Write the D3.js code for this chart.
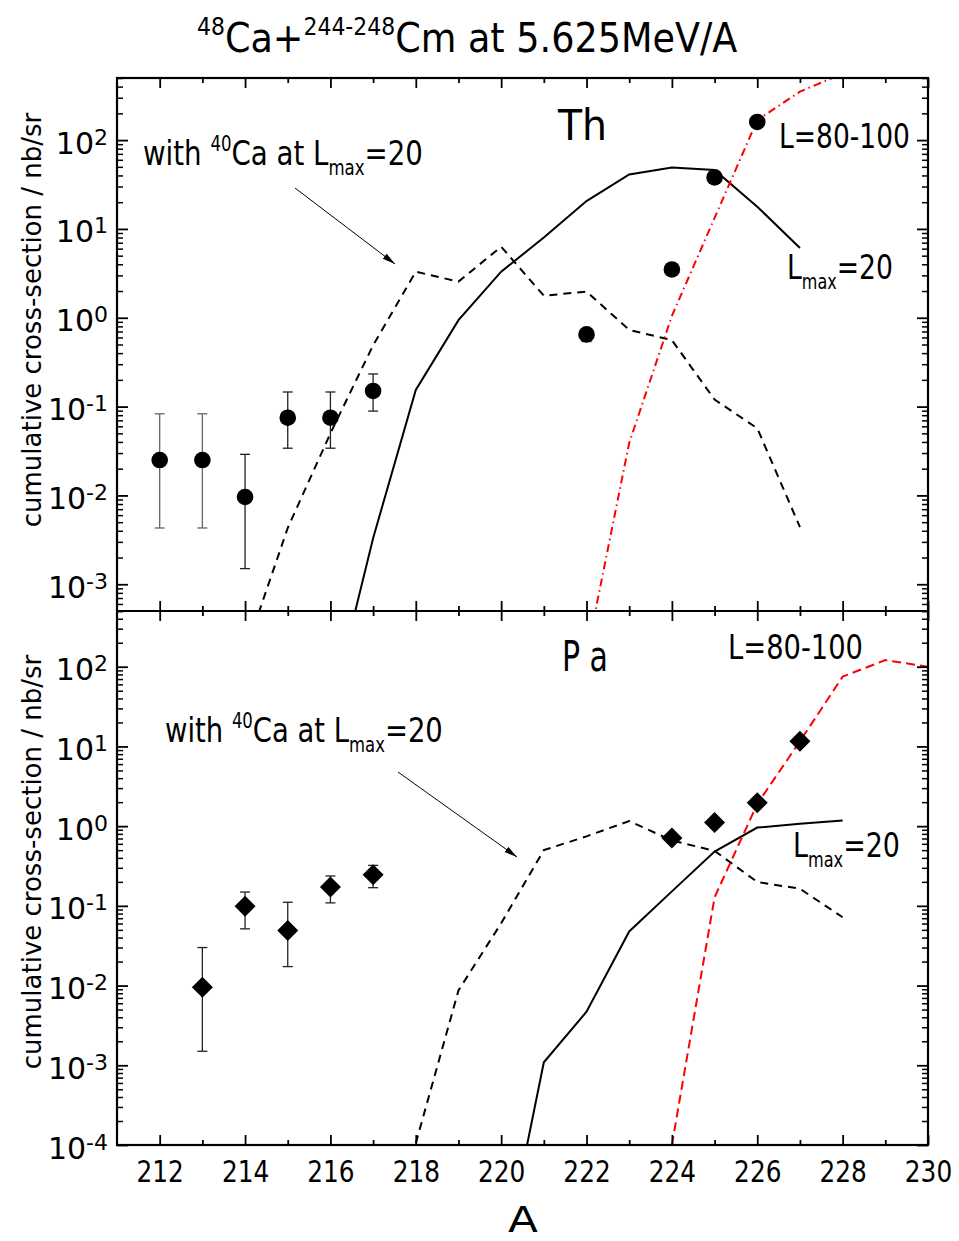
<!doctype html>
<html>
<head>
<meta charset="utf-8"/>
<style>
  html, body { margin: 0; padding: 0; background: #fff; }
  svg { display: block; }
  text { font-family: "DejaVu Sans", sans-serif; fill: #000; }
</style>
<script src="https://cdnjs.cloudflare.com/ajax/libs/d3/7.8.5/d3.min.js"></script>
</head>
<body>
<svg id="chart" width="959" height="1241"></svg>
<script>
// x axis: mass number A
var xTickValues = [212, 213, 214, 215, 216, 217, 218, 219, 220, 221, 222, 223, 224, 225, 226, 227, 228, 229, 230];
var xLabelValues = [212, 214, 216, 218, 220, 222, 224, 226, 228, 230];

// --- Th panel ---
var thA   = [212, 213, 214, 215, 216, 217, 222, 224, 225, 226];
var thSig = [0.025, 0.025, 0.0096, 0.075, 0.075, 0.15, 0.65, 3.5, 38, 160];
var thLo  = [0.0043, 0.0043, 0.0015, 0.034, 0.034, 0.089, 0.54, null, null, null];
var thHi  = [0.083, 0.083, 0.029, 0.146, 0.146, 0.233, 0.7, null, null, null];

var thLmaxA = [216, 217, 218, 219, 220, 221, 222, 223, 224, 225, 226, 227];
var thLmax  = [3.6e-5, 0.0033, 0.154, 0.94, 3.3, 8.0, 20.6, 41, 49, 46, 17.8, 6.1];

var thCa40A = [214, 215, 216, 217, 218, 219, 220, 221, 222, 223, 224, 225, 226, 227];
var thCa40  = [1.7e-4, 0.0043, 0.05, 0.49, 3.3, 2.55, 6.3, 1.77, 1.97, 0.73, 0.56, 0.12, 0.057, 0.0044];

var thL80A = [222, 223, 224, 225, 226, 227, 228];
var thL80  = [1.6e-4, 0.039, 1.05, 13.3, 168, 351, 560];

// --- Pa panel ---
var paA   = [213, 214, 215, 216, 217, 224, 225, 226, 227];
var paSig = [0.0095, 0.099, 0.049, 0.172, 0.246, 0.71, 1.11, 1.97, 11.6];
var paLo  = [0.0015, 0.0515, 0.0173, 0.109, 0.169, null, null, null, null];
var paHi  = [0.030, 0.149, 0.111, 0.237, 0.322, null, null, null, null];

var paLmaxA = [220, 221, 222, 223, 224, 225, 226, 227, 228];
var paLmax  = [2.5e-6, 0.00109, 0.0047, 0.0477, 0.152, 0.48, 0.96, 1.07, 1.18];

var paCa40A = [218, 219, 220, 221, 222, 223, 224, 225, 226, 227, 228];
var paCa40  = [1.05e-4, 0.0087, 0.0605, 0.50, 0.745, 1.16, 0.66, 0.49, 0.199, 0.164, 0.072];

var paL80A = [224, 225, 226, 227, 228, 229, 230];
var paL80  = [1.0e-4, 0.128, 1.9, 11.6, 75, 121, 100];

var svg = d3.select("#chart");
var defs = svg.append("defs");

defs.append("marker")
    .attr("id", "arrow")
    .attr("viewBox", "0 -4 13 8")
    .attr("refX", 13).attr("refY", 0)
    .attr("markerWidth", 13).attr("markerHeight", 8)
    .attr("markerUnits", "userSpaceOnUse")
    .attr("orient", "auto")
  .append("path")
    .attr("d", "M0,-3.2L13,0L0,3.2Z")
    .attr("fill", "#000");

var x = d3.scaleLinear().domain([211, 230]).range([117, 928]);
var line = d3.line().x(function(d) { return x(d[0]); });

function isDecade(d) {
  var l = Math.log10(d);
  return Math.abs(l - Math.round(l)) < 1e-6;
}

// text with super/subscripts: parts = [[str, "sup"|"sub"|undefined, dx]]
function rich(parent, parts, size) {
  var t = parent.append("text").attr("font-size", size);
  var cur = 0;
  parts.forEach(function(p) {
    var off = p[1] === "sup" ? -0.42 * size : p[1] === "sub" ? 0.3 * size : 0;
    t.append("tspan")
      .attr("dy", off - cur)
      .attr("dx", p[2] || 0)
      .attr("font-size", p[1] ? size * 0.6 : size)
      .text(p[0]);
    cur = off;
  });
  return t;
}

// squeeze a label horizontally so it spans [x0, x0 + width]
function label(parts, size, x0, baseline, width) {
  var g = svg.append("g");
  rich(g, parts, size);
  var bb = g.node().getBBox();
  var k = width / bb.width;
  g.attr("transform", "translate(" + (x0 - bb.x * k) + "," + baseline + ") scale(" + k + ",1)");
  return g;
}

function stripDomain(sel) { sel.select(".domain").remove(); }

function drawPanel(p) {
  var y = d3.scaleLog().domain(p.yDomain).range([p.bottom, p.top]);
  line.y(function(d) { return y(d[1]); });

  defs.append("clipPath").attr("id", "clip-" + p.id)
    .append("rect")
      .attr("x", x.range()[0]).attr("y", p.top)
      .attr("width", x.range()[1] - x.range()[0])
      .attr("height", p.bottom - p.top);

  var plot = svg.append("g").attr("clip-path", "url(#clip-" + p.id + ")");

  p.curves.forEach(function(c) {
    plot.append("path")
      .datum(d3.zip(c.a, c.v))
      .attr("d", line)
      .attr("fill", "none")
      .attr("stroke", c.color)
      .attr("stroke-width", 2)
      .attr("stroke-dasharray", c.dash);
  });

  var pts = p.a.map(function(a, i) { return { a: a, v: p.v[i], lo: p.lo[i], hi: p.hi[i] }; });
  var err = plot.append("g").selectAll("g")
    .data(pts.filter(function(d) { return d.lo != null; }))
    .enter().append("g")
      .attr("stroke", function(d) { return d.a < 214 && p.id === "th" ? "#666" : "#222"; })
      .attr("stroke-width", 1.3);
  err.append("line")
    .attr("x1", function(d) { return x(d.a); }).attr("x2", function(d) { return x(d.a); })
    .attr("y1", function(d) { return y(d.lo); }).attr("y2", function(d) { return y(d.hi); });
  err.append("line")
    .attr("x1", function(d) { return x(d.a) - 5; }).attr("x2", function(d) { return x(d.a) + 5; })
    .attr("y1", function(d) { return y(d.lo); }).attr("y2", function(d) { return y(d.lo); });
  err.append("line")
    .attr("x1", function(d) { return x(d.a) - 5; }).attr("x2", function(d) { return x(d.a) + 5; })
    .attr("y1", function(d) { return y(d.hi); }).attr("y2", function(d) { return y(d.hi); });

  plot.append("g").selectAll("path")
    .data(pts).enter().append("path")
      .attr("transform", function(d) { return "translate(" + x(d.a) + "," + y(d.v) + ")"; })
      .attr("d", p.symbol === "circle"
        ? d3.symbol(d3.symbolCircle, Math.PI * 8.3 * 8.3)
        : "M0,-10.5L10.5,0L0,10.5L-10.5,0Z")
      .attr("fill", "#000");

  // y axes (ticks inward on both sides)
  var yt = y.ticks();
  var yMajor = yt.filter(isDecade), yMinor = yt.filter(function(d) { return !isDecade(d); });

  svg.append("g").attr("transform", "translate(117,0)")
    .call(d3.axisLeft(y).tickValues(yMinor).tickSize(-6).tickFormat(""))
    .call(stripDomain)
    .selectAll("line").attr("stroke-width", 1.5);
  var yl = svg.append("g").attr("transform", "translate(117,0)")
    .call(d3.axisLeft(y).tickValues(yMajor).tickSize(-11).tickPadding(9)
      .tickFormat(function(d) { return Math.round(Math.log10(d)); }))
    .call(stripDomain)
    .attr("font-family", null).attr("font-size", null);
  yl.selectAll("line").attr("stroke-width", 1.8);
  yl.selectAll(".tick text").each(function(d) {
    var t = d3.select(this);
    var e = t.text();
    t.text(null).attr("dy", null).attr("y", 13).attr("font-size", 30);
    t.append("tspan").text("10");
    t.append("tspan").attr("font-size", 22).attr("dy", -9).text(e);
  });

  svg.append("g").attr("transform", "translate(928,0)")
    .call(d3.axisRight(y).tickValues(yMinor).tickSize(-6).tickFormat(""))
    .call(stripDomain)
    .selectAll("line").attr("stroke-width", 1.5);
  svg.append("g").attr("transform", "translate(928,0)")
    .call(d3.axisRight(y).tickValues(yMajor).tickSize(-11).tickFormat(""))
    .call(stripDomain)
    .selectAll("line").attr("stroke-width", 1.8);

  // x ticks on top and bottom edges, inward
  [[d3.axisTop, p.top], [d3.axisBottom, p.bottom]].forEach(function(s) {
    svg.append("g").attr("transform", "translate(0," + s[1] + ")")
      .call(s[0](x).tickValues(xTickValues)
        .tickSize(-5).tickFormat(""))
      .call(stripDomain)
      .selectAll(".tick line")
        .attr("y2", function(d) { return (s[0] === d3.axisTop ? 1 : -1) * (d % 2 === 0 ? 10 : 5); })
        .attr("stroke-width", 1.8);
  });

  // y axis title
  svg.append("text")
    .attr("transform", "translate(41," + p.labelY + ") rotate(-90)")
    .attr("text-anchor", "middle")
    .attr("font-size", 26)
    .text("cumulative cross-section / nb/sr");

  return y;
}

drawPanel({
  id: "th", top: 78, bottom: 611, yDomain: [5e-4, 500], labelY: 320,
  a: thA, v: thSig, lo: thLo, hi: thHi, symbol: "circle",
  curves: [
    { a: thCa40A, v: thCa40, color: "#000", dash: "8,6" },
    { a: thLmaxA, v: thLmax, color: "#000", dash: null },
    { a: thL80A, v: thL80, color: "#ff0000", dash: "8,4,1.5,4" }
  ]
});

drawPanel({
  id: "pa", top: 611, bottom: 1145, yDomain: [1e-4, 500], labelY: 862,
  a: paA, v: paSig, lo: paLo, hi: paHi, symbol: "diamond",
  curves: [
    { a: paCa40A, v: paCa40, color: "#000", dash: "8,6" },
    { a: paLmaxA, v: paLmax, color: "#000", dash: null },
    { a: paL80A, v: paL80, color: "#ff0000", dash: "9,5" }
  ]
});

// x tick labels along the bottom
var xl = svg.append("g").attr("transform", "translate(0,1145)")
  .call(d3.axisBottom(x).tickValues(xLabelValues).tickSize(0).tickFormat(d3.format("d")))
  .call(stripDomain)
  .attr("font-family", null).attr("font-size", null);
xl.selectAll(".tick text")
  .attr("dy", null).attr("y", 37)
  .attr("font-size", 31)
  .attr("transform", "scale(0.8,1)");

// frame
svg.append("rect")
  .attr("x", 117).attr("y", 78).attr("width", 811).attr("height", 1067)
  .attr("fill", "none").attr("stroke", "#000").attr("stroke-width", 2.2);
svg.append("line")
  .attr("x1", 117).attr("x2", 928).attr("y1", 611).attr("y2", 611)
  .attr("stroke", "#000").attr("stroke-width", 2.2);

// arrows
[[295, 188, 395, 264], [398, 772, 517, 857]].forEach(function(a) {
  svg.append("line")
    .attr("x1", a[0]).attr("y1", a[1]).attr("x2", a[2]).attr("y2", a[3])
    .attr("stroke", "#000").attr("stroke-width", 1)
    .attr("marker-end", "url(#arrow)");
});

// labels
label([["48", "sup"], ["Ca+"], ["244-248", "sup"], ["Cm at 5.625MeV/A"]], 40, 197, 52, 541);
label([["with "], ["40", "sup"], ["Ca at L"], ["max", "sub"], ["=20"]], 34, 143, 165, 280);
label([["with "], ["40", "sup"], ["Ca at L"], ["max", "sub"], ["=20"]], 34, 165, 742, 278);
label([["Th"]], 43, 557, 140, 50);
label([["P a"]], 42, 562, 671, 46);
label([["L=80-100"]], 33, 779, 148, 131);
label([["L=80-100"]], 33, 728, 659, 135);
label([["L"], ["max", "sub"], ["=20"]], 34, 787, 279, 106);
label([["L"], ["max", "sub"], ["=20"]], 34, 793, 857, 107);
label([["A"]], 35, 508, 1232, 30);
</script>
</body>
</html>
